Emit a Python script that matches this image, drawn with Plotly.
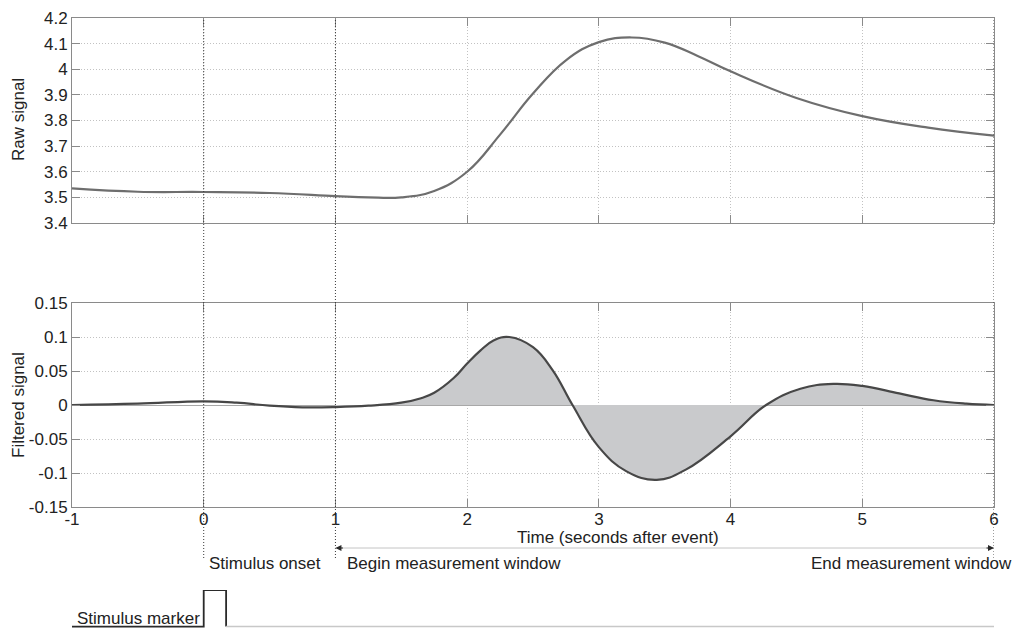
import plotly.graph_objects as go

# ---------------- data ----------------
raw_t = [-1, -0.5, 0, 0.5, 1.0, 1.25, 1.5, 1.75, 2.0, 2.25, 2.5, 2.75, 3.0, 3.25,
         3.5, 3.75, 4.0, 4.5, 5.0, 5.5, 6.0]
raw_v = [3.535, 3.522, 3.521, 3.517, 3.505, 3.500, 3.500, 3.525, 3.600, 3.745, 3.905,
         4.035, 4.106, 4.124, 4.104, 4.052, 3.992, 3.888, 3.817, 3.772, 3.741]

filt_t = [-1, -0.5, 0, 0.25, 0.5, 0.75, 1.0, 1.25, 1.5, 1.65, 1.75, 1.9, 2.0, 2.1, 2.2,
          2.32, 2.5, 2.65, 2.8, 3.0, 3.21, 3.44, 3.66, 4.0, 4.27, 4.53, 4.78, 5.0,
          5.28, 5.54, 5.79, 6.0]
filt_v = [0, 0.002, 0.0054, 0.0034, -0.001, -0.0034, -0.003, -0.001, 0.0034, 0.010,
          0.018, 0.040, 0.061, 0.080, 0.095, 0.100, 0.085, 0.051, 0.0, -0.062, -0.0976,
          -0.110, -0.095, -0.046, 0.0, 0.024, 0.031, 0.028, 0.017, 0.007, 0.002, 0.0]

window_start = 1.0
window_end = 6.0
stim_onset = 0.0
stim_width = 0.17

marker_on_t = [-1, stim_onset, stim_onset, stim_onset + stim_width, stim_onset + stim_width]
marker_on_v = [0, 0, 1, 1, 0]
marker_off_t = [stim_onset + stim_width, window_end]
marker_off_v = [0, 0]

x_ticks = [-1, 0, 1, 2, 3, 4, 5, 6]
x_ticktext = ["-1", "0", "1", "2", "3", "4", "5", "6"]
raw_ticks = [3.4, 3.5, 3.6, 3.7, 3.8, 3.9, 4.0, 4.1, 4.2]
raw_ticktext = ["3.4", "3.5", "3.6", "3.7", "3.8", "3.9", "4", "4.1", "4.2"]
filt_ticks = [-0.15, -0.1, -0.05, 0, 0.05, 0.1, 0.15]
filt_ticktext = ["-0.15", "-0.1", "-0.05", "0", "0.05", "0.1", "0.15"]

# ---------------- style ----------------
FONT = "Liberation Sans, Arial, sans-serif"
FS = 17
TXT = "#222222"
FRAME = "#8a8a8a"
GRID = "#c2c2c2"
GRIDDASH = "1px,2px"
SMOOTH = 1.2

fig = go.Figure()

fig.add_trace(go.Scatter(x=raw_t, y=raw_v, mode="lines",
                         line=dict(color="#6e6e6e", width=2.2, shape="spline", smoothing=SMOOTH),
                         xaxis="x", yaxis="y", showlegend=False))

fill_t = [t for t in filt_t if t >= window_start]
fill_v = [v for t, v in zip(filt_t, filt_v) if t >= window_start]
fig.add_trace(go.Scatter(x=fill_t, y=fill_v, mode="lines", fill="tozeroy", fillcolor="#c9cacc",
                         line=dict(color="rgba(0,0,0,0)", width=0, shape="spline", smoothing=SMOOTH),
                         xaxis="x2", yaxis="y2", showlegend=False))
fig.add_trace(go.Scatter(x=filt_t, y=filt_v, mode="lines",
                         line=dict(color="#474747", width=2.2, shape="spline", smoothing=SMOOTH),
                         xaxis="x2", yaxis="y2", showlegend=False))

fig.add_trace(go.Scatter(x=marker_on_t, y=marker_on_v, mode="lines", line=dict(color="#2a2a2a", width=1.8),
                         xaxis="x3", yaxis="y3", showlegend=False))
fig.add_trace(go.Scatter(x=marker_off_t, y=marker_off_v, mode="lines", line=dict(color="#c8c8c8", width=1.5),
                         xaxis="x3", yaxis="y3", showlegend=False))

H_PLOT = 610.0


def py(p):
    return 1 - (p - 18) / H_PLOT


def px(p):
    return (p - 72) / 922.0


axis_common = dict(range=[-1, 6], showline=True, linecolor=FRAME, linewidth=1, mirror="ticks",
                   ticks="inside", ticklen=8, tickcolor=FRAME, showgrid=True, gridcolor=GRID,
                   griddash=GRIDDASH, gridwidth=1, zeroline=False, tickvals=x_ticks, automargin=False,
                   tickfont=dict(family=FONT, size=FS, color=TXT))

yaxis_common = dict(showline=True, linecolor=FRAME, linewidth=1, mirror="ticks", ticks="inside", ticklen=8,
                    tickcolor=FRAME, showgrid=True, gridcolor=GRID, griddash=GRIDDASH, gridwidth=1,
                    automargin=False, tickfont=dict(family=FONT, size=FS, color=TXT))

fig.update_layout(
    width=1019, height=629,
    margin=dict(l=72, r=25, t=18, b=1, autoexpand=False),
    paper_bgcolor="white", plot_bgcolor="white",
    font=dict(family=FONT, size=FS, color=TXT),
    xaxis=dict(axis_common, domain=[0, 1], anchor="y", showticklabels=False),
    yaxis=dict(yaxis_common, domain=[py(223), 1], range=[3.4, 4.2], anchor="x", tickvals=raw_ticks,
               ticktext=raw_ticktext, zeroline=False),
    xaxis2=dict(axis_common, domain=[0, 1], anchor="y2", ticktext=x_ticktext, showticklabels=True,
                ticklabelstandoff=-3),
    yaxis2=dict(yaxis_common, domain=[py(507), py(303)], range=[-0.15, 0.15], anchor="x2",
                tickvals=filt_ticks, ticktext=filt_ticktext,
                zeroline=True, zerolinecolor="#a8a8a8", zerolinewidth=1),
    xaxis3=dict(domain=[0, 1], range=[-1, 6], anchor="y3", visible=False, automargin=False),
    yaxis3=dict(domain=[0, py(590)], range=[-0.04, 1.0], anchor="x3", visible=False, automargin=False),
)

# vertical event lines
for xv in [stim_onset, window_start, window_end]:
    fig.add_shape(type="line", xref="x2", yref="paper", x0=xv, x1=xv, y0=py(558), y1=1,
                  line=dict(color="#3a3a3a", width=1, dash="1px,2px"), layer="above")

# measurement window line + arrowheads
arrow_y = py(548)
fig.add_shape(type="line", xref="x2", yref="paper", x0=window_start, x1=window_end, y0=arrow_y, y1=arrow_y,
              line=dict(color="#c4c4c4", width=1))
for xv, axp in [(window_start, 9), (window_end, -9)]:
    fig.add_annotation(x=xv, y=arrow_y, xref="x2", yref="paper", ax=axp, ay=0, axref="pixel", ayref="pixel",
                       showarrow=True, arrowhead=2, arrowsize=1, arrowwidth=1.2, arrowcolor="#2a2a2a", text="")

annos = [
    dict(text="Raw signal", x=px(18), y=py(120), textangle=-90, xanchor="center", yanchor="middle"),
    dict(text="Filtered signal", x=px(18), y=py(405), textangle=-90, xanchor="center", yanchor="middle"),
    dict(text="Time (seconds after event)", x=px(618), y=py(537), xanchor="center", yanchor="middle"),
    dict(text="Stimulus onset", x=px(207), y=py(563), xanchor="left", yanchor="middle"),
    dict(text="Begin measurement window", x=px(345), y=py(563), xanchor="left", yanchor="middle"),
    dict(text="End measurement window", x=px(1014), y=py(563), xanchor="right", yanchor="middle"),
    dict(text="Stimulus marker", x=px(202), y=py(618), xanchor="right", yanchor="middle"),
]
for a in annos:
    fig.add_annotation(xref="paper", yref="paper", showarrow=False,
                       font=dict(family=FONT, size=FS, color=TXT), **a)

fig.write_html("out.html", config={"displayModeBar": False},
               post_script="document.body.style.margin='0';document.body.style.overflow='hidden';")
